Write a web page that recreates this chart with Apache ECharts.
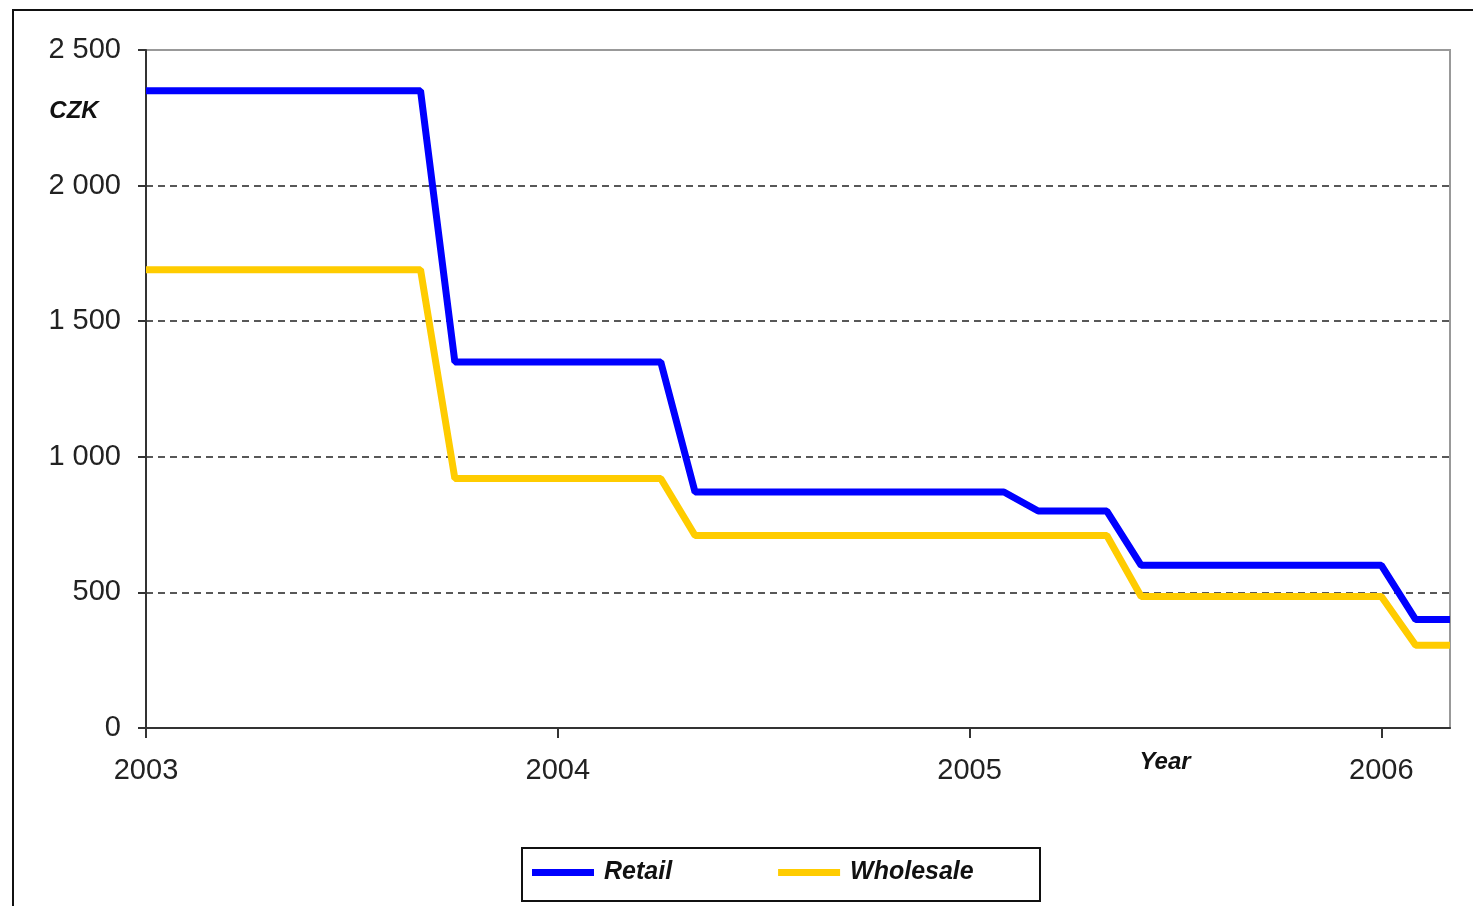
<!DOCTYPE html>
<html>
<head>
<meta charset="utf-8">
<script src="https://cdn.jsdelivr.net/npm/echarts@6/dist/echarts.min.js"></script>
<style>
html,body{margin:0;padding:0;background:#fff;}
#c{width:1473px;height:906px;}
</style>
</head>
<body>
<div id="c"></div>
<script>
// Dates of each breakpoint (year-month) and prices in CZK
const dates = ["2003-01","2003-09","2003-10","2004-04","2004-05","2005-02","2005-03","2005-05","2005-06","2006-01","2006-02","2006-03"];
const retail = [2350,2350,1350,1350,870,870,800,800,600,600,400,400];
const wholesale = [1690,1690,920,920,710,710,710,710,485,485,305,305];
const yearTicks = [2003,2004,2005,2006];
const seriesNames = ["Retail","Wholesale"];

function toYear(s){ const p = s.split("-"); return (+p[0]) + ((+p[1]) - 1) / 12; }
const xs = dates.map(toYear);
const retailData = xs.map((x,i)=>[x, retail[i]]);
const wholesaleData = xs.map((x,i)=>[x, wholesale[i]]);

const FONT = "'Liberation Sans', Arial, sans-serif";
const chart = echarts.init(document.getElementById('c'), null, {renderer:'canvas'});
chart.setOption({
  animation:false,
  backgroundColor:'#fff',
  grid:{left:146,right:23,top:50,bottom:178,show:true,borderColor:'#999',borderWidth:2,backgroundColor:'transparent'},
  xAxis:{
    type:'value', min:xs[0], max:xs[xs.length-1], interval:1,
    axisLine:{show:true,onZero:false,lineStyle:{color:'#333',width:2}},
    axisTick:{show:true,length:10,lineStyle:{color:'#333',width:2},customValues:yearTicks},
    axisLabel:{color:'#222',fontFamily:FONT,fontSize:29,margin:28,customValues:yearTicks,
      formatter:v=>Number.isInteger(v)?String(v):''},
    splitLine:{show:false}
  },
  yAxis:{
    type:'value', min:0, max:2500, interval:500,
    axisLine:{show:true,lineStyle:{color:'#333',width:2}},
    axisTick:{show:true,length:8,lineStyle:{color:'#333',width:2}},
    axisLabel:{color:'#222',fontFamily:FONT,fontSize:29,margin:25,
      formatter:v=>String(v).replace(/\B(?=(\d{3})+(?!\d))/g,' ')},
    splitLine:{show:true,showMaxLine:false,showMinLine:false,lineStyle:{color:'#222',width:1.5,type:[7,5]}}
  },
  legend:{
    left:532, top:860, padding:0, itemWidth:62, itemHeight:7, itemGap:106, icon:'rect',
    data:seriesNames,
    textStyle:{fontFamily:FONT,fontSize:25,fontStyle:'italic',fontWeight:'bold',color:'#111',padding:[0,0,0,5]}
  },
  graphic:[
    {type:'rect',shape:{x:13,y:10,width:1480,height:920},style:{fill:'none',stroke:'#111',lineWidth:2},silent:true},
    {type:'rect',shape:{x:522,y:848,width:518,height:53},style:{fill:'none',stroke:'#111',lineWidth:2},silent:true},
    {type:'text',x:74,y:111,style:{text:'CZK',font:"italic bold 24px 'Liberation Sans', Arial, sans-serif",fill:'#111',align:'center',verticalAlign:'middle'}},
    {type:'text',x:1165,y:762,style:{text:'Year',font:"italic bold 24px 'Liberation Sans', Arial, sans-serif",fill:'#111',align:'center',verticalAlign:'middle'}}
  ],
  series:[
    {name:seriesNames[0],type:'line',data:retailData,showSymbol:false,symbol:'none',color:'#0000FF',
      lineStyle:{width:7,color:'#0000FF'},z:3},
    {name:seriesNames[1],type:'line',data:wholesaleData,showSymbol:false,symbol:'none',color:'#FFCC00',
      lineStyle:{width:7,color:'#FFCC00'},z:2}
  ]
});
</script>
</body>
</html>
